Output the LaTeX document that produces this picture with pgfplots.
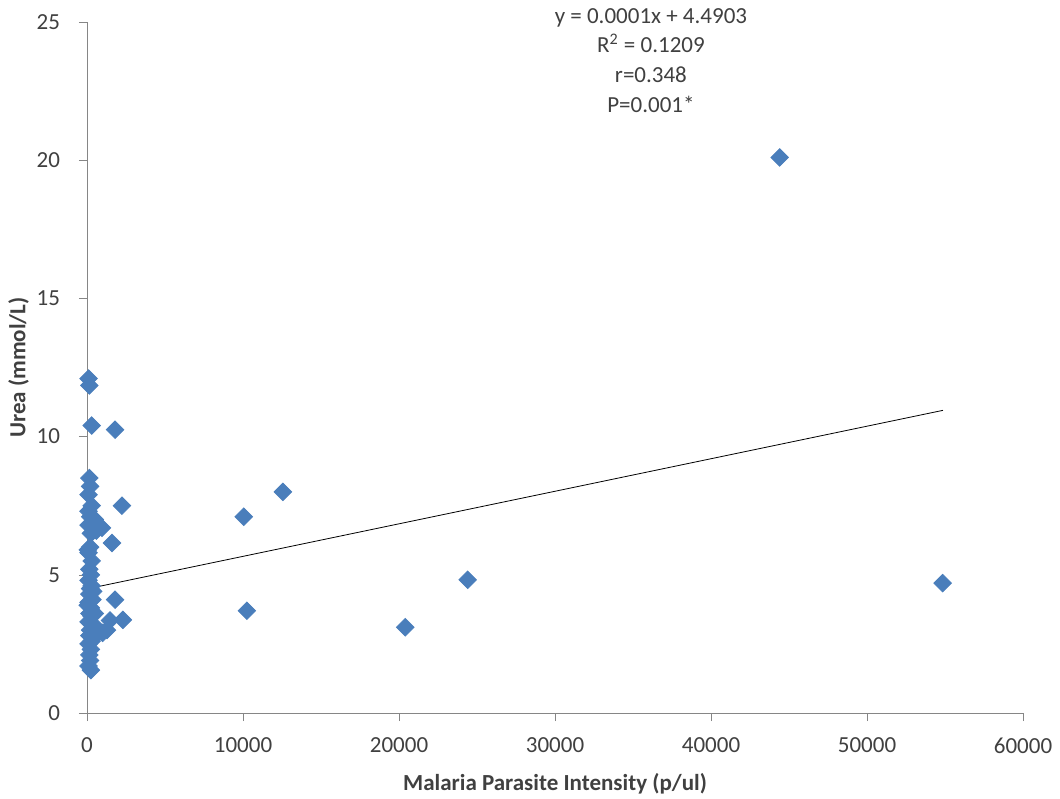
\documentclass[border=0pt]{standalone}
\usepackage{pgfplots}
\pgfplotsset{compat=1.18}
\usepackage{fontspec}
\setmainfont{Carlito}
\definecolor{mk}{HTML}{4A7EBB}
\definecolor{axgray}{HTML}{868686}
\definecolor{txt}{HTML}{404040}
\begin{document}
\begin{tikzpicture}
\begin{axis}[name=ax,
  scale only axis, width=468pt, height=345.5pt,
  xmin=0, xmax=60000, ymin=0, ymax=25,
  axis lines=left, axis line style={axgray, -},
  xtick={0,10000,...,60000}, ytick={0,5,...,25},
  tick style={axgray}, tick align=outside, major tick length=4pt,
  scaled x ticks=false,
  /pgf/number format/assume math mode=true,
  xticklabel style={/pgf/number format/1000 sep={}, font=\fontsize{11.5}{13}\selectfont, text=txt, yshift=-5pt},
  yticklabel style={font=\fontsize{11.5}{13}\selectfont, text=txt, xshift=-6pt},
  xlabel={\bfseries Malaria Parasite Intensity (p/ul)},
  ylabel={\bfseries Urea (mmol/L)},
  xlabel style={font=\fontsize{11.5}{13}\selectfont, text=txt, yshift=-3pt},
  ylabel style={font=\fontsize{11.5}{13}\selectfont, text=txt, yshift=-3pt},
  clip=false,
]
\addplot[only marks, mark=square*, mark size=3.1pt, mark options={fill=mk, draw=mk, rotate=45}] coordinates {
(100,12.1) (150,11.85) (300,10.4) (150,8.5) (200,8.2) (100,7.9) (300,7.5)
(100,7.3) (200,7.1) (400,6.9) (100,6.8) (600,6.6) (250,6.5) (200,6.0)
(100,5.8) (300,5.5) (150,5.2) (250,5.0) (100,4.8) (300,4.6) (200,4.5)
(150,4.3) (350,4.1) (100,4.0) (250,3.8) (150,3.6) (300,3.5) (100,3.3)
(400,3.2) (200,3.0) (600,2.9) (150,2.8) (300,2.6) (100,2.5) (250,2.3)
(150,2.1) (200,1.9) (100,1.7) (250,1.55) (50,5.9) (500,3.1) (50,3.9)
(450,2.95) (500,7.0) (400,4.4) (500,3.6) (350,2.7)
(960,6.7) (1000,2.9) (1280,3.0) (1470,3.35) (1600,6.15) (1800,10.25)
(2240,7.5) (1800,4.1) (2300,3.37)
(10050,7.1) (10250,3.7) (12560,8.0) (20400,3.1) (24400,4.82)
(44400,20.1) (54850,4.7)
};
\addplot[black, thin] coordinates {(0,4.49) (54870,10.95)};
\node[anchor=north, align=center, text=txt, font=\fontsize{11.5}{14.8}\selectfont]
  at (axis cs:36150,25.75) {y = 0.0001x + 4.4903\\R\textsuperscript{2} = 0.1209\\r=0.348\\P=0.001*};
\end{axis}
\pgfresetboundingbox
\path ([shift={(-43.5pt,-42.5pt)}]ax.south west) rectangle ([shift={(18.5pt,11pt)}]ax.north east);
\end{tikzpicture}
\end{document}
